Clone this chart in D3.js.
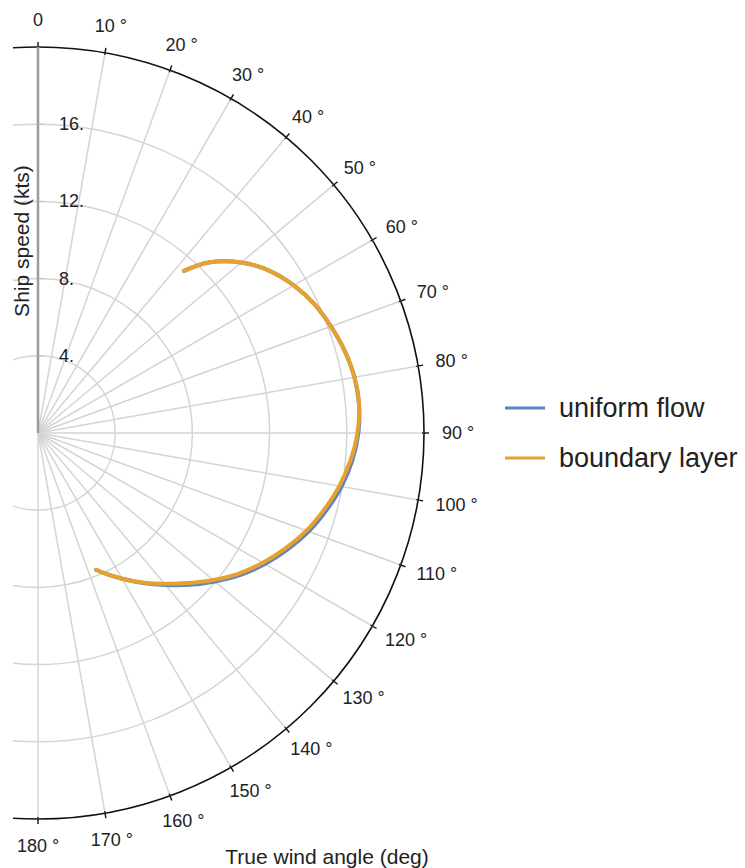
<!DOCTYPE html>
<html>
<head>
<meta charset="utf-8">
<script src="https://cdn.jsdelivr.net/npm/d3@7"></script>
<style>
  html, body { margin: 0; padding: 0; background: #fff; }
  svg text { font-family: "Liberation Sans", Arial, sans-serif; fill: #222; }
</style>
</head>
<body>
<svg id="chart" width="745" height="868"></svg>
<script>
// True wind angle (deg) at which ship speed was computed
const windAngles = [42, 45, 50, 55, 60, 65, 70, 75, 80, 85, 90, 95, 100, 105, 110, 115, 120, 125, 130, 135, 140, 145, 150, 155, 157];
// Ship speed (kts) with a uniform inflow profile
const uniformFlow = [11.3, 12.5, 13.75, 14.65, 15.3, 15.8, 16.15, 16.45, 16.65, 16.7, 16.6, 16.35, 15.97, 15.47, 14.92, 14.27, 13.57, 12.82, 11.97, 11.12, 10.28, 9.49, 8.72, 8.0, 7.7];
// Ship speed (kts) with an atmospheric boundary-layer inflow profile
const boundaryLayer = [11.3, 12.5, 13.75, 14.65, 15.3, 15.8, 16.15, 16.45, 16.65, 16.7, 16.55, 16.25, 15.85, 15.35, 14.8, 14.15, 13.45, 12.7, 11.85, 11.0, 10.2, 9.45, 8.72, 8.0, 7.7];

const angleTicks = [0, 10, 20, 30, 40, 50, 60, 70, 80, 90, 100, 110, 120, 130, 140, 150, 160, 170, 180];
const speedTicks = [4, 8, 12, 16];
const speedMax = 20;

const seriesNames = ["uniform flow", "boundary layer"];
const seriesColors = ["#5B85C5", "#E6A12E"];

const svg = d3.select("#chart");
const cx = 38, cy = 433, R = 386;

const r = d3.scaleLinear().domain([0, speedMax]).range([0, R]);
const theta = d3.scaleLinear().domain([0, 180]).range([0, Math.PI]);

const defs = svg.append("defs");
defs.append("clipPath").attr("id", "plotClip")
  .append("rect").attr("x", 13 - cx).attr("y", -R - 10).attr("width", 600).attr("height", 2 * R + 20);

const g = svg.append("g").attr("transform", `translate(${cx},${cy})`);
const clipped = g.append("g").attr("clip-path", "url(#plotClip)");

// speed rings
clipped.selectAll("circle.ring")
  .data(speedTicks)
  .join("circle")
  .attr("class", "ring")
  .attr("r", d => r(d))
  .attr("fill", "none")
  .attr("stroke", "#d4d4d4")
  .attr("stroke-width", 1.5);

// angle spokes
const pt = (a, s) => [Math.sin(theta(a)) * r(s), -Math.cos(theta(a)) * r(s)];
g.selectAll("line.spoke")
  .data(angleTicks.filter(a => a > 0))
  .join("line")
  .attr("class", "spoke")
  .attr("x1", 0).attr("y1", 0)
  .attr("x2", d => pt(d, speedMax)[0])
  .attr("y2", d => pt(d, speedMax)[1])
  .attr("stroke", "#d4d4d4")
  .attr("stroke-width", 1.5);

// outer boundary
clipped.append("circle")
  .attr("r", R)
  .attr("fill", "none")
  .attr("stroke", "#111")
  .attr("stroke-width", 1.6);

// angle ticks on the boundary
g.selectAll("line.atick")
  .data(angleTicks)
  .join("line")
  .attr("class", "atick")
  .attr("x1", d => Math.sin(theta(d)) * (R - 2))
  .attr("y1", d => -Math.cos(theta(d)) * (R - 2))
  .attr("x2", d => Math.sin(theta(d)) * (R + 5))
  .attr("y2", d => -Math.cos(theta(d)) * (R + 5))
  .attr("stroke", "#111")
  .attr("stroke-width", 1.4);

// angle labels, pushed outward by half their box so they clear the rim
const labelR = R + 18;
const aLabels = g.selectAll("text.alabel")
  .data(angleTicks)
  .join("text")
  .attr("class", "alabel")
  .attr("text-anchor", "middle")
  .attr("dominant-baseline", "central")
  .attr("font-size", 18)
  .text(d => d === 0 ? "0" : `${d} °`);
aLabels.each(function(d) {
  const w = this.getComputedTextLength();
  const s = Math.sin(theta(d)), c = Math.cos(theta(d));
  d3.select(this)
    .attr("x", s * labelR + s * w / 2)
    .attr("y", -c * labelR - c * 9);
});

// radial axis
g.append("line")
  .attr("x1", 0).attr("y1", 0)
  .attr("x2", 0).attr("y2", -R)
  .attr("stroke", "#9c9c9c")
  .attr("stroke-width", 2.5);

g.selectAll("line.rtick")
  .data(speedTicks)
  .join("line")
  .attr("class", "rtick")
  .attr("x1", 0).attr("x2", 5)
  .attr("y1", d => -r(d)).attr("y2", d => -r(d))
  .attr("stroke", "#bbb")
  .attr("stroke-width", 1);

g.selectAll("text.rlabel")
  .data(speedTicks)
  .join("text")
  .attr("class", "rlabel")
  .attr("x", 21)
  .attr("y", d => -r(d))
  .attr("dominant-baseline", "central")
  .attr("font-size", 18)
  .text(d => `${d}.`);

// polar curves
const radialLine = d3.lineRadial()
  .angle(d => theta(d[0]))
  .radius(d => r(d[1]))
  .curve(d3.curveCatmullRom.alpha(0.5));

[uniformFlow, boundaryLayer].forEach((vals, i) => {
  g.append("path")
    .datum(windAngles.map((a, j) => [a, vals[j]]))
    .attr("d", radialLine)
    .attr("fill", "none")
    .attr("stroke", seriesColors[i])
    .attr("stroke-width", 4)
    .attr("stroke-linecap", "round");
});

// axis titles
svg.append("text")
  .attr("x", 327).attr("y", 864)
  .attr("text-anchor", "middle")
  .attr("font-size", 21)
  .text("True wind angle (deg)");

svg.append("text")
  .attr("transform", "translate(29,241) rotate(-90)")
  .attr("text-anchor", "middle")
  .attr("font-size", 21)
  .text("Ship speed (kts)");

// legend
const legend = svg.append("g").attr("transform", "translate(505,408)");
seriesNames.forEach((name, i) => {
  const row = legend.append("g").attr("transform", `translate(0,${i * 50})`);
  row.append("line")
    .attr("x1", 0).attr("x2", 40)
    .attr("stroke", seriesColors[i])
    .attr("stroke-width", 3);
  row.append("text")
    .attr("x", 54).attr("y", 0)
    .attr("dominant-baseline", "central")
    .attr("font-size", 27)
    .text(name);
});
</script>
</body>
</html>
